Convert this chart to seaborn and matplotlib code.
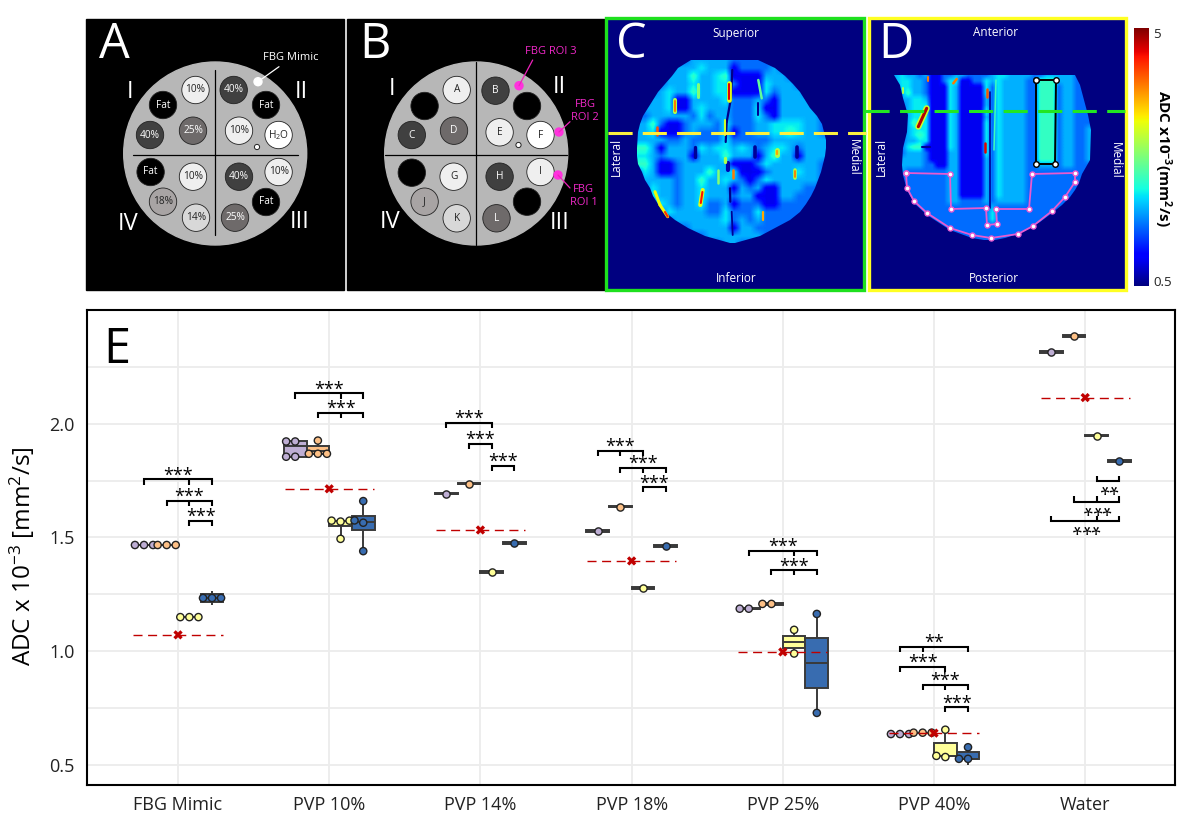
import numpy as np
import pandas as pd
import matplotlib
matplotlib.use("Agg")
import matplotlib.pyplot as plt
from matplotlib.patches import Circle, Rectangle, Polygon
import seaborn as sns

# chart data
categories = ["FBG Mimic", "PVP 10%", "PVP 14%", "PVP 18%", "PVP 25%", "PVP 40%", "Water"]
groups = ["g1", "g2", "g3", "g4"]
group_colors = ["#beaed4", "#fdc086", "#ffff99", "#386cb0"]

points_g1 = [[1.467, 1.467, 1.467], [1.855, 1.855, 1.922, 1.922], [1.692], [1.529],
             [1.187, 1.187], [0.636, 0.636, 0.636], [2.316]]
points_g2 = [[1.467, 1.467, 1.467], [1.868, 1.868, 1.868, 1.926], [1.736], [1.635],
             [1.208, 1.208], [0.642, 0.642, 0.642], [2.386]]
points_g3 = [[1.15, 1.15, 1.15], [1.494, 1.57, 1.574, 1.574], [1.349], [1.278],
             [0.99, 1.094], [0.535, 0.54, 0.655], [1.947]]
points_g4 = [[1.234, 1.234, 1.234], [1.44, 1.565, 1.575, 1.66], [1.476], [1.463],
             [0.729, 1.164], [0.527, 0.527, 0.578], [1.837]]
all_points = [points_g1, points_g2, points_g3, points_g4]

# values that shape the box but have no dot in the picture: (category, group, values)
box_only = [(0, 3, [1.205, 1.216, 1.216, 1.25, 1.25, 1.265]), (1, 0, [1.90]), (1, 1, [1.89, 1.905]),
            (4, 0, [1.177, 1.197]), (4, 1, [1.196, 1.22]),
            (4, 2, [1.042]), (4, 3, [0.95]), (5, 3, [0.50, 0.555]),
            (2, 0, [1.686, 1.698]), (2, 1, [1.73, 1.742]), (2, 2, [1.343, 1.355]), (2, 3, [1.47, 1.482]),
            (3, 0, [1.523, 1.535]), (3, 1, [1.629, 1.641]), (3, 2, [1.272, 1.284]), (3, 3, [1.457, 1.469]),
            (6, 0, [2.31, 2.322]), (6, 1, [2.38, 2.392]), (6, 2, [1.941, 1.953]), (6, 3, [1.831, 1.843])]

reference = [1.072, 1.714, 1.533, 1.397, 0.997, 0.64, 2.115]

# significance brackets: category, first group, last group, height, stars, inner tick group
brackets = [
    (0, 0, 3, 1.755, "***", 2), (0, 1, 3, 1.661, "***", 2), (0, 2, 3, 1.573, "***", None),
    (1, 0, 3, 2.134, "***", 2), (1, 1, 3, 2.048, "***", 2),
    (2, 0, 2, 2.005, "***", None), (2, 1, 2, 1.912, "***", None), (2, 2, 3, 1.815, "***", None),
    (3, 0, 2, 1.881, "***", 1), (3, 1, 3, 1.806, "***", 2), (3, 2, 3, 1.722, "***", None),
    (4, 0, 3, 1.441, "***", 2), (4, 1, 3, 1.357, "***", 2),
    (5, 0, 3, 1.019, "**", 1), (5, 0, 2, 0.932, "***", None), (5, 1, 3, 0.852, "***", 2),
    (5, 2, 3, 0.755, "***", None),
]
water_brackets = [(6, 2, 3, 1.747, "**", None), (6, 1, 3, 1.657, "***", 2), (6, 0, 3, 1.572, "***", 2)]

# phantom schematics, panels A and B (pixel layout of the figure)
vials_a = [(195.5, 90, "10%", "#efefef"), (163, 105, "Fat", "#000000"), (233.7, 90, "40%", "#404040"),
           (266, 105, "Fat", "#000000"), (150, 135, "40%", "#404040"), (193, 130.7, "25%", "#6e6a6a"),
           (239, 130.7, "10%", "#efefef"), (278.6, 135, "H$_2$O", "#ffffff"), (150.6, 172, "Fat", "#000000"),
           (193, 176.7, "10%", "#efefef"), (163, 201.7, "18%", "#a8a4a4"), (196, 217.7, "14%", "#d8d8d8"),
           (239, 176.7, "40%", "#404040"), (278.6, 172, "10%", "#efefef"), (266, 202, "Fat", "#000000"),
           (235, 217.7, "25%", "#6e6a6a")]
vials_b = [(456.7, 90, "A", "#efefef"), (424.6, 106, "", "#000000"), (495.5, 90.7, "B", "#404040"),
           (527, 106, "", "#000000"), (411.8, 135, "C", "#404040"), (454, 130.7, "D", "#6e6a6a"),
           (499.6, 132.3, "E", "#efefef"), (540.5, 135, "F", "#ffffff"), (453.6, 176.7, "G", "#efefef"),
           (411.8, 172.7, "", "#000000"), (424.6, 201.7, "J", "#a8a4a4"), (456.7, 218.3, "K", "#d8d8d8"),
           (499.6, 176.7, "H", "#404040"), (540.5, 172, "I", "#efefef"), (527, 201.7, "", "#000000"),
           (496.5, 218.3, "L", "#6e6a6a")]
numerals_a = [(130, 92, "I"), (301.6, 92, "II"), (128, 224, "IV"), (300, 222, "III")]
numerals_b = [(392.5, 89, "I"), (559, 87, "II"), (390, 222, "IV"), (559.7, 223, "III")]
roi_dots = [(519, 85.7, 532.7, 60), (559, 132, 570, 121.7), (558, 175, 570, 188)]
roi_labels = [(551, 52, "FBG ROI 3"), (585, 111, "FBG\nROI 2"), (583.4, 196, "FBG\nROI 1")]

# ADC maps, panels C and D, one digit per cell, digit = index into adc_levels
# digit 0 is only outside the outline, which clips it away
adc_levels = [1.55, 0.95, 1.55, 1.85, 2.1, 2.35]
map_c = [
    "000000033333222200000000", "000003334333122223000000", "000033353345111133300000",
    "000033343344011143332000", "000343353344111142333000", "003341133334022321333300",
    "033341134333022411333330", "023333324233022421333330", "335211233324022334444332",
    "334111232224122334454332", "333322322224222223333333", "553133304344343034430333",
    "443233313335333135331333", "553112333333111243333332", "043112333533411123334332",
    "033332335334321243333330", "004332334333132311333220", "004332334333033111332220",
    "000432334223122211222200", "000043333224022422222000", "000003333334032322220000",
    "000000233333133222000000", "000000000333333300000000", "000000000003300000000000",
]
map_d = [
    "0343323112233222234433332233333200", "0344332112441122434333322555333200",
    "0044332111431111404333322555233200", "0035332111431111404333322555233220",
    "0033443111431111304333322555233220", "0003444111431111304333322555233220",
    "0003444111431111404333322555233222", "0003444111431111304333322555233222",
    "0003544111431111404333322555233222", "0003444111431111404333322555233223",
    "0003454111431111404333322555233223", "0003344111431111404333322555233223",
    "0004551111431111404333322555233223", "0003332111331111404333322555233223",
    "0033332111331111304333322555233223", "0033332211331111304333322333233222",
    "0032222222331111304333322222222222", "0002222222331111304333322222222200",
    "0002222222331111304333322222222200", "0002222222331111304333322222222000",
    "0000222222331111304333322222222000", "0000022222332222303333322222220000",
    "0000002222222222232222222222200000", "0000000222222222242222222222000000",
    "0000000002222222242222222220000000", "0000000000222222222222222000000000",
    "0000000000002222222220000000000000", "0000000000000002222200000000000000",
]
outline_c = [(691, 60), (678, 68), (672, 76), (665, 84), (658, 92), (653, 100), (648, 108), (643, 116),
             (640, 124), (638, 132), (637, 148), (637, 156), (638, 164), (642, 172), (645, 180), (650, 188),
             (653, 196), (658, 204), (665, 212), (675, 220), (688, 228), (705, 236), (730, 243), (735, 243),
             (760, 236), (775, 228), (790, 220), (800, 212), (806, 204), (811, 196), (815, 188), (818, 180),
             (821, 172), (823, 164), (825, 156), (826, 148), (826, 140), (824, 132), (822, 124), (817, 116),
             (810, 108), (805, 100), (800, 92), (793, 84), (785, 76), (775, 68), (758, 60)]
outline_d = [(894, 75), (1075, 75), (1080, 85), (1084, 100), (1088, 115), (1091, 130), (1090, 160), (1082, 174),
             (1079, 183), (1075, 190), (1070, 197), (1062, 205), (1052, 213), (1040, 222), (1030, 228),
             (1018, 234), (1005, 238), (990, 241), (972, 238), (950, 230), (927, 215), (914, 203), (907, 190),
             (903, 175), (902, 165), (903, 148), (907, 132), (908, 115), (903, 98), (900, 85)]
# thin features of the maps: x0, y0, x1, y1, adc, width
streaks_c = [
    (732.3, 70, 731, 98, 0.55, 1.6), (731, 98, 726.7, 122, 0.55, 1.6), (726.7, 122, 725.7, 142, 0.55, 1.6),
    (730, 188.3, 730.3, 201.7, 0.55, 1.6), (731.7, 211.7, 732.7, 235, 0.6, 1.3), (728, 163, 728, 170, 0.7, 3),
    (729, 83.3, 729, 100, 3.3, 3.4), (729, 84, 729, 99, 4.6, 1.5),
    (675, 100, 675, 111.7, 3.0, 3), (675, 101, 675, 110.7, 4.0, 1.5),
    (657.3, 126.7, 657.3, 135, 4.2, 1.8), (698.3, 84.3, 698.3, 96.7, 2.8, 2.2),
    (702.7, 190, 700.3, 205, 3.3, 3), (702.4, 192, 700.8, 203, 4.5, 1.5),
    (732.7, 170, 732.7, 178.3, 4.0, 1.8), (795, 170, 795, 178.3, 3.0, 2.6), (795, 171, 795, 177.3, 4.0, 1.3),
    (763.3, 211.7, 763.3, 220, 3.8, 1.6), (776.7, 150, 776.7, 155, 3.0, 3.6), (776.7, 151, 776.7, 154.3, 3.8, 1.6),
    (655, 191.7, 660, 205, 3.4, 2.2), (660, 205, 667.7, 216.7, 3.4, 2.2), (665, 212, 667.7, 216.7, 4.4, 1.5),
    (725, 120, 725, 135, 3.2, 1.5), (718.3, 170, 718.3, 183.3, 2.8, 1.8), (758.3, 80, 761.7, 98.3, 2.6, 1.8),
    (725, 158, 725, 162, 3.0, 2.4), (695, 146.7, 695, 156.7, 0.6, 2.4), (755, 146.7, 755, 156.7, 0.6, 2.6),
    (797.3, 146.7, 797.3, 156.7, 0.6, 2.6), (757.7, 103.3, 757.7, 115, 0.6, 1.5),
]
streaks_d = [
    (926.7, 108.3, 918.3, 126.7, 3.2, 4.4), (926.7, 108.3, 918.3, 126.7, 4.8, 2.2),
    (990, 91.7, 990, 208, 0.6, 1.2), (985, 143, 985, 151.7, 4.6, 1.8), (986.7, 89, 986.7, 96.7, 4.2, 1.8),
    (956.7, 79, 953.3, 83.3, 4.0, 1.8), (921.7, 146.7, 930, 146.7, 0.6, 1.5), (903, 88, 903, 93, 3.0, 1.5),
    (996, 80, 994, 150, 2.4, 1.1), (928, 77, 928, 81, 4.0, 1.5),
]
roi_polygon = [(906, 173), (950, 174), (951, 209), (986, 208), (987, 225), (997, 224), (996, 209),
               (1029, 209), (1032, 174), (1075, 173), (1075, 182), (1065, 197), (1052, 211), (1033, 226),
               (1018, 234), (991, 238), (972, 235), (950, 228), (927, 213), (914, 201), (907, 188)]
rect_roi = [(1036, 80), (1056, 80), (1055, 164), (1036, 164)]

sns.set_theme(style="white")
plt.rcParams["font.family"] = "Open Sans"
plt.rcParams["mathtext.default"] = "regular"

fig = plt.figure(figsize=(11.96, 8.27), dpi=100)
W, H = 1196.0, 827.0

# ---- panel E ----
ax = fig.add_axes([87 / W, 1 - 785 / H, (1175 - 87) / W, (785 - 310) / H])
offsets = [-0.225, -0.075, 0.075, 0.225]

rows = []
for g, pts in enumerate(all_points):
    for c, vals in enumerate(pts):
        for v in vals:
            rows.append({"pos": round(c + offsets[g], 3), "value": v, "group": groups[g], "shown": True})
for c, g, vals in box_only:
    for v in vals:
        rows.append({"pos": round(c + offsets[g], 3), "value": v, "group": groups[g], "shown": False})
df = pd.DataFrame(rows)

sns.boxplot(data=df, x="pos", y="value", hue="group", hue_order=groups, palette=group_colors,
            dodge=False, native_scale=True, width=1, saturation=1, linewidth=1.4, linecolor="#3a3a3a",
            whis=(0, 100), showcaps=False, showfliers=False, legend=False, ax=ax)
sns.swarmplot(data=df[df["shown"]], x="pos", y="value", hue="group", hue_order=groups, palette=group_colors,
              dodge=False, native_scale=True, size=5.2, edgecolor="#222222", linewidth=1, warn_thresh=1,
              legend=False, zorder=5, ax=ax)

cat_pos = np.arange(len(categories))
ax.hlines(reference, cat_pos - 0.295, cat_pos + 0.295, colors="#c00000", linewidth=1,
          linestyles=(0, (6.5, 4)), zorder=6)
sns.scatterplot(x=cat_pos, y=reference, marker="X", s=45, color="#c00000", edgecolor="none",
                legend=False, zorder=7, ax=ax)


def draw_bracket(c, g0, g1, y, stars, mid, flip=False):
    x0, x1 = c + offsets[g0], c + offsets[g1]
    tick = 0.024 if flip else -0.024
    ax.plot([x0, x0, x1, x1], [y + tick, y, y, y + tick], color="black", lw=1.5,
            solid_joinstyle="miter", solid_capstyle="butt", zorder=8)
    if mid is not None:
        xm = c + offsets[mid]
        ax.plot([xm, xm], [y, y + tick], color="black", lw=1.5, solid_capstyle="butt", zorder=8)
    if flip:
        ax.annotate(stars, ((x0 + x1) / 2, y), xytext=(0, 1.5), textcoords="offset points", ha="center",
                    va="baseline", fontsize=13, color="black", rotation=180, rotation_mode="anchor", zorder=9)
    else:
        ax.annotate(stars, ((x0 + x1) / 2, y), xytext=(0, -1), textcoords="offset points", ha="center",
                    va="baseline", fontsize=13, color="black", zorder=9)


for b in brackets:
    draw_bracket(*b)
for b in water_brackets:
    draw_bracket(*b, flip=True)

ax.set_xlim(-0.602, 6.594)
ax.set_ylim(0.412, 2.5)
ax.set_xticks(cat_pos)
ax.set_xticklabels(categories, fontsize=13, color="#222222")
ax.set_yticks([0.5, 1.0, 1.5, 2.0])
ax.set_yticks([0.75, 1.25, 1.75, 2.25], minor=True)
ax.tick_params(axis="both", which="both", length=0, labelsize=13, labelcolor="#222222")
ax.tick_params(axis="x", pad=8)
ax.tick_params(axis="y", pad=9)
ax.grid(True, which="both", color="#ececec", linewidth=1.3)
ax.set_axisbelow(True)
ax.set_xlabel("")
ax.set_ylabel("ADC x 10$^{-3}$ [mm$^{2}$/s]", fontsize=17.5, color="black")
ax.yaxis.set_label_coords(-0.046, 0.482)
for s in ax.spines.values():
    s.set_visible(True)
    s.set_color("black")
    s.set_linewidth(1.5)

# ---- panels A-D and colour bar, drawn in figure pixels ----
top = fig.add_axes([0, 0, 1, 1], facecolor="none")
top.set_axis_off()


def draw_phantom(cx, vials, numerals, hspan):
    top.add_patch(Rectangle((cx - 129.5, 19), 258, 271, color="black", zorder=1))
    top.add_patch(Circle((cx, 153.5), 91.5, color="#b7b7b7", zorder=2))
    top.plot([cx, cx], [70 if hspan else 62, 235 if hspan else 245], color="black", lw=0.9, zorder=3)
    top.plot([cx - 82 if hspan else cx - 91, cx + 83 if hspan else cx + 91], [154.7, 154.7],
             color="black", lw=0.9, zorder=3)
    for x, y, label, col in vials:
        top.add_patch(Circle((x, y), 13.7, facecolor=col, edgecolor="#222222", lw=0.6, zorder=4))
        light = col in ("#efefef", "#ffffff", "#d8d8d8", "#a8a4a4")
        top.text(x, y, label, color="#222222" if light else "white", fontsize=7.3,
                 ha="center", va="center", zorder=5)
    for x, y, label in numerals:
        top.text(x, y, label, color="white", fontsize=17, ha="center", va="center", zorder=5)


draw_phantom(215.2, vials_a, numerals_a, True)
draw_phantom(476.2, vials_b, numerals_b, False)

top.add_patch(Circle((257, 147), 2.6, facecolor="white", edgecolor="#222222", lw=0.7, zorder=5))
top.add_patch(Circle((518.5, 145), 2.6, facecolor="white", edgecolor="#222222", lw=0.7, zorder=5))
top.add_patch(Circle((258, 81.7), 4, color="white", zorder=5))
top.plot([258, 279], [81.7, 66.7], color="white", lw=0.9, zorder=5)
top.text(291, 57, "FBG Mimic", color="white", fontsize=8, ha="center", va="center", zorder=5)

for x0, y0, x1, y1 in roi_dots:
    top.add_patch(Circle((x0, y0), 4, color="#ff33dd", zorder=5))
    top.plot([x0, x1], [y0, y1], color="#ee22bb", lw=0.9, zorder=5)
for x, y, label in roi_labels:
    top.text(x, y, label, color="#f028c8", fontsize=8, ha="center", va="center", linespacing=1.15, zorder=5)


def draw_map(rows_map, extent, outline, streaks):
    values = np.array([[adc_levels[int(ch)] for ch in row] for row in rows_map])
    im = top.imshow(values, cmap="jet", vmin=0.5, vmax=5, extent=extent, aspect="auto",
                    interpolation="bilinear", zorder=2)
    im.set_clip_path(Polygon(outline, closed=True, transform=top.transData))
    jet = plt.get_cmap("jet")
    for x0, y0, x1, y1, adc, width in streaks:
        top.plot([x0, x1], [y0, y1], color=jet((adc - 0.5) / 4.5), lw=width, solid_capstyle="round", zorder=2.5)


navy = plt.get_cmap("jet")(0.0)
top.add_patch(Rectangle((606, 18), 258, 272, facecolor=navy, edgecolor="#1ee01e", lw=2.4, zorder=1))
top.add_patch(Rectangle((869, 18), 257, 272, facecolor=navy, edgecolor="#ffff22", lw=2.4, zorder=1))
draw_map(map_c, (633, 827, 248, 56), outline_c, streaks_c)
draw_map(map_d, (887, 1092, 240, 72), outline_d, streaks_d)

top.plot([608, 866], [133, 133], color="#fcf040", lw=2.2, dashes=(7.9, 3.3), dash_capstyle="butt", zorder=4)
top.plot([865, 1125], [111, 111], color="#22e622", lw=2.2, dashes=(7.9, 3.4), dash_capstyle="butt", zorder=4)

poly = roi_polygon + roi_polygon[:1]
top.plot([p[0] for p in poly], [p[1] for p in poly], color="#e85ad0", lw=1.3, zorder=3,
         marker="o", ms=3.6, mfc="white", mec="#e85ad0", mew=1)
rect = rect_roi + rect_roi[:1]
top.plot([p[0] for p in rect], [p[1] for p in rect], color="black", lw=1.4, zorder=3,
         marker="o", ms=4, mfc="white", mec="black", mew=1)

side_text = [(736, 33, "Superior", 0), (736, 278, "Inferior", 0), (616, 157, "Lateral", 90),
             (853.6, 157, "Medial", 270), (996, 32, "Anterior", 0), (994, 278, "Posterior", 0),
             (881, 157, "Lateral", 90), (1115, 160, "Medial", 270)]
for x, y, label, rot in side_text:
    top.text(x, y, label, color="white", fontsize=8.5, rotation=rot, ha="center", va="center", zorder=5)

for x, label in [(114, "A"), (375, "B"), (631, "C"), (896, "D")]:
    top.text(x, 45, label, color="white", fontsize=35, ha="center", va="center", zorder=6)
top.text(117, 350, "E", color="black", fontsize=35, ha="center", va="center", zorder=6)

# colour bar
gradient = np.linspace(5, 0.5, 256).reshape(-1, 1)
top.imshow(gradient, cmap="jet", vmin=0.5, vmax=5, extent=(1134, 1149, 286, 28), aspect="auto", zorder=2)
top.text(1156.7, 34, "5", color="#222222", fontsize=9.5, ha="center", va="center")
top.text(1162.7, 282, "0.5", color="#222222", fontsize=9.5, ha="center", va="center")
top.text(1163, 158, "ADC x10$^{-3}$(mm$^{2}$/s)", color="black", fontsize=11, fontweight="bold",
         rotation=270, ha="center", va="center")

top.set_xlim(0, W)
top.set_ylim(H, 0)

fig.savefig("out.png", dpi=100, facecolor="white")
